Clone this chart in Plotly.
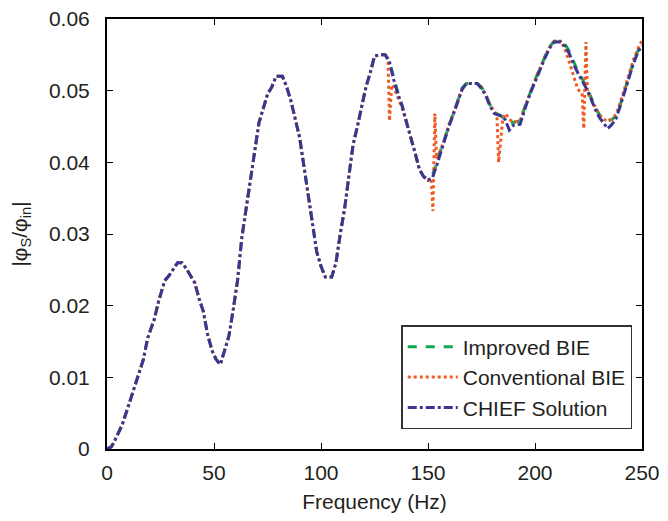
import plotly.graph_objects as go

# Frequencies (Hz) and |phi_s/phi_in|
freq = [0, 2, 3, 5, 7, 10, 12, 15, 17, 19, 22, 24, 27, 29, 31, 33, 35, 37, 39, 41,
        43, 45, 47, 49, 51, 53, 55, 57, 59, 61, 63, 65, 67, 69, 71, 73, 75, 77, 79, 82,
        84, 86, 88, 90, 92, 94, 96, 98, 100, 102, 105, 107, 109, 111, 113, 115, 117, 119, 121, 123,
        125, 127, 130, 132, 134, 136, 138, 140, 142, 144, 146, 148, 150, 152, 154, 156, 158, 160, 162, 164,
        166, 168, 173, 175, 177, 179, 181, 184, 186, 188, 190, 193, 195, 197, 199, 201, 203, 205, 207, 209,
        212, 214, 216, 218, 220, 222, 224, 226, 228, 230, 232, 234, 236, 238, 240, 242, 244, 246, 248, 250]

chief = [0, 0.0003, 0.0008, 0.002, 0.0033, 0.006, 0.0078, 0.0105, 0.0125, 0.0155, 0.018, 0.0205, 0.0235, 0.0242, 0.0252, 0.026, 0.026, 0.0252, 0.0242, 0.0232,
         0.021, 0.0192, 0.016, 0.0138, 0.0125, 0.0118, 0.0138, 0.0158, 0.0195, 0.0235, 0.0295, 0.0335, 0.0375, 0.042, 0.0455, 0.0475, 0.0495, 0.0505, 0.052, 0.052,
         0.0505, 0.0485, 0.046, 0.0435, 0.0395, 0.0355, 0.0315, 0.0275, 0.0255, 0.024, 0.024, 0.026, 0.030, 0.0335, 0.038, 0.0425, 0.045, 0.0478, 0.0505, 0.0525,
         0.0548, 0.055, 0.055, 0.054, 0.0515, 0.0495, 0.0478, 0.0455, 0.0435, 0.0413, 0.039, 0.038, 0.0375, 0.0378, 0.0395, 0.0415, 0.0432, 0.0452, 0.0468, 0.0485,
         0.0502, 0.051, 0.051, 0.0503, 0.0493, 0.0478, 0.0468, 0.0465, 0.046, 0.0445, 0.0452, 0.0453, 0.0473, 0.049, 0.0505, 0.052, 0.0535, 0.0548, 0.056, 0.0568,
         0.0568, 0.0562, 0.0552, 0.0537, 0.0525, 0.0515, 0.0503, 0.049, 0.0475, 0.0463, 0.0455, 0.0447, 0.0453, 0.0462, 0.048, 0.050, 0.052, 0.0538, 0.0553, 0.0563]

improved = [0, 0.0003, 0.0008, 0.002, 0.0033, 0.006, 0.0078, 0.0105, 0.0125, 0.0155, 0.018, 0.0205, 0.0235, 0.0242, 0.0252, 0.026, 0.026, 0.0252, 0.0242, 0.0232,
            0.021, 0.0192, 0.016, 0.0138, 0.0125, 0.0118, 0.0138, 0.0158, 0.0195, 0.0235, 0.0295, 0.0335, 0.0375, 0.042, 0.0455, 0.0475, 0.0495, 0.0505, 0.052, 0.052,
            0.0505, 0.0485, 0.046, 0.0435, 0.0395, 0.0355, 0.0315, 0.0275, 0.0255, 0.024, 0.024, 0.026, 0.030, 0.0335, 0.038, 0.0425, 0.045, 0.0478, 0.0505, 0.0525,
            0.0548, 0.055, 0.055, 0.054, 0.0518, 0.0497, 0.0478, 0.0455, 0.0435, 0.0413, 0.039, 0.038, 0.0377, 0.0382, 0.0398, 0.0418, 0.0435, 0.0455, 0.047, 0.0487,
            0.0504, 0.051, 0.051, 0.0505, 0.0495, 0.048, 0.047, 0.0465, 0.046, 0.0455, 0.0456, 0.0458, 0.0475, 0.0492, 0.0507, 0.0522, 0.0537, 0.055, 0.0562, 0.0569,
            0.0569, 0.0565, 0.0555, 0.054, 0.0527, 0.0517, 0.0505, 0.0492, 0.0478, 0.0467, 0.046, 0.0458, 0.046, 0.0465, 0.0482, 0.0502, 0.0522, 0.054, 0.0555, 0.0565]

conv_freq = [0, 2, 3, 5, 7, 10, 12, 15, 17, 19, 22, 24, 27, 29, 31, 33, 35, 37, 39, 41,
             43, 45, 47, 49, 51, 53, 55, 57, 59, 61, 63, 65, 67, 69, 71, 73, 75, 77, 79, 82,
             84, 86, 88, 90, 92, 94, 96, 98, 100, 102, 105, 107, 109, 111, 113, 115, 117, 119, 121, 123,
             125, 127, 130, 131.3, 132, 133, 134, 136, 138, 140, 142, 144, 146, 148, 150, 151.5, 152.3, 153.2, 154, 156,
             158, 160, 162, 164, 166, 168, 173, 175, 177, 179, 181, 182.2, 183, 185, 186.3, 188, 190, 193, 195, 197,
             199, 201, 203, 205, 207, 209, 212, 214, 216, 218, 220, 222, 222.8, 223.8, 224.5, 225.5, 228, 230, 232, 234,
             236, 238, 240, 242, 244, 246, 248, 250]

conv = [0, 0.0003, 0.0008, 0.002, 0.0033, 0.006, 0.0078, 0.0105, 0.0125, 0.0155, 0.018, 0.0205, 0.0235, 0.0242, 0.0252, 0.026, 0.026, 0.0252, 0.0242, 0.0232,
        0.021, 0.0192, 0.016, 0.0138, 0.0125, 0.0118, 0.0138, 0.0158, 0.0195, 0.0235, 0.0295, 0.0335, 0.0375, 0.042, 0.0455, 0.0475, 0.0495, 0.0505, 0.052, 0.052,
        0.0505, 0.0485, 0.046, 0.0435, 0.0395, 0.0355, 0.0315, 0.0275, 0.0255, 0.024, 0.024, 0.026, 0.030, 0.0335, 0.038, 0.0425, 0.045, 0.0478, 0.0505, 0.0525,
        0.0548, 0.055, 0.055, 0.0545, 0.0458, 0.0508, 0.0505, 0.049, 0.0475, 0.0455, 0.0435, 0.0413, 0.039, 0.038, 0.0375, 0.0378, 0.0332, 0.0468, 0.0405, 0.0418,
        0.0435, 0.0455, 0.047, 0.0487, 0.0504, 0.051, 0.051, 0.0505, 0.0495, 0.048, 0.047, 0.0466, 0.0400, 0.0462, 0.0468, 0.046, 0.0456, 0.0458, 0.0475, 0.0492,
        0.0507, 0.0522, 0.0537, 0.055, 0.0562, 0.0569, 0.0569, 0.0558, 0.054, 0.052, 0.0502, 0.0496, 0.0447, 0.0568, 0.0498, 0.0492, 0.0478, 0.0467, 0.046, 0.0458,
        0.046, 0.0468, 0.0485, 0.0505, 0.0525, 0.0543, 0.0558, 0.057]

fig = go.Figure()
fig.add_trace(go.Scatter(x=freq, y=improved, mode='lines', name='Improved BIE',
                         line=dict(color='#0fa650', width=3, dash='dash')))
fig.add_trace(go.Scatter(x=conv_freq, y=conv, mode='lines', name='Conventional BIE',
                         line=dict(color='#f15a22', width=3, dash='dot')))
fig.add_trace(go.Scatter(x=freq, y=chief, mode='lines', name='CHIEF Solution',
                         line=dict(color='#3b3695', width=3, dash='dashdot')))

txt = '#231f20'
axis_style = dict(showline=True, linecolor='black', linewidth=2, mirror='ticks',
                  ticks='inside', ticklen=6, tickwidth=1, tickcolor='black',
                  showgrid=False, zeroline=False, automargin=False,
                  ticklabeloverflow='allow',
                  tickfont=dict(family='Liberation Sans, Arial', size=21, color=txt))

# page body adds an 8px margin, so the figure is sized to fit inside it
fig.update_layout(
    width=652, height=505,
    margin=dict(l=99, r=18, t=11, b=64),
    plot_bgcolor='white', paper_bgcolor='white',
    font=dict(family='Liberation Sans, Arial', size=21, color=txt),
    xaxis=dict(range=[0, 250], dtick=50, ticklabelstandoff=4,
               title=dict(text='Frequency (Hz)', standoff=14, font=dict(size=21)), **axis_style),
    yaxis=dict(range=[0, 0.06], dtick=0.01, ticklabelstandoff=11,
               title=dict(text='|φ<sub>S</sub>/φ<sub>in</sub>|', standoff=19, font=dict(size=21)), **axis_style),
    legend=dict(x=0.55, y=0.288, xanchor='left', yanchor='top',
                bordercolor='#333', borderwidth=1.5, bgcolor='white',
                font=dict(size=21), tracegroupgap=0, itemwidth=50),
    showlegend=True,
)

fig.write_html("out.html")
